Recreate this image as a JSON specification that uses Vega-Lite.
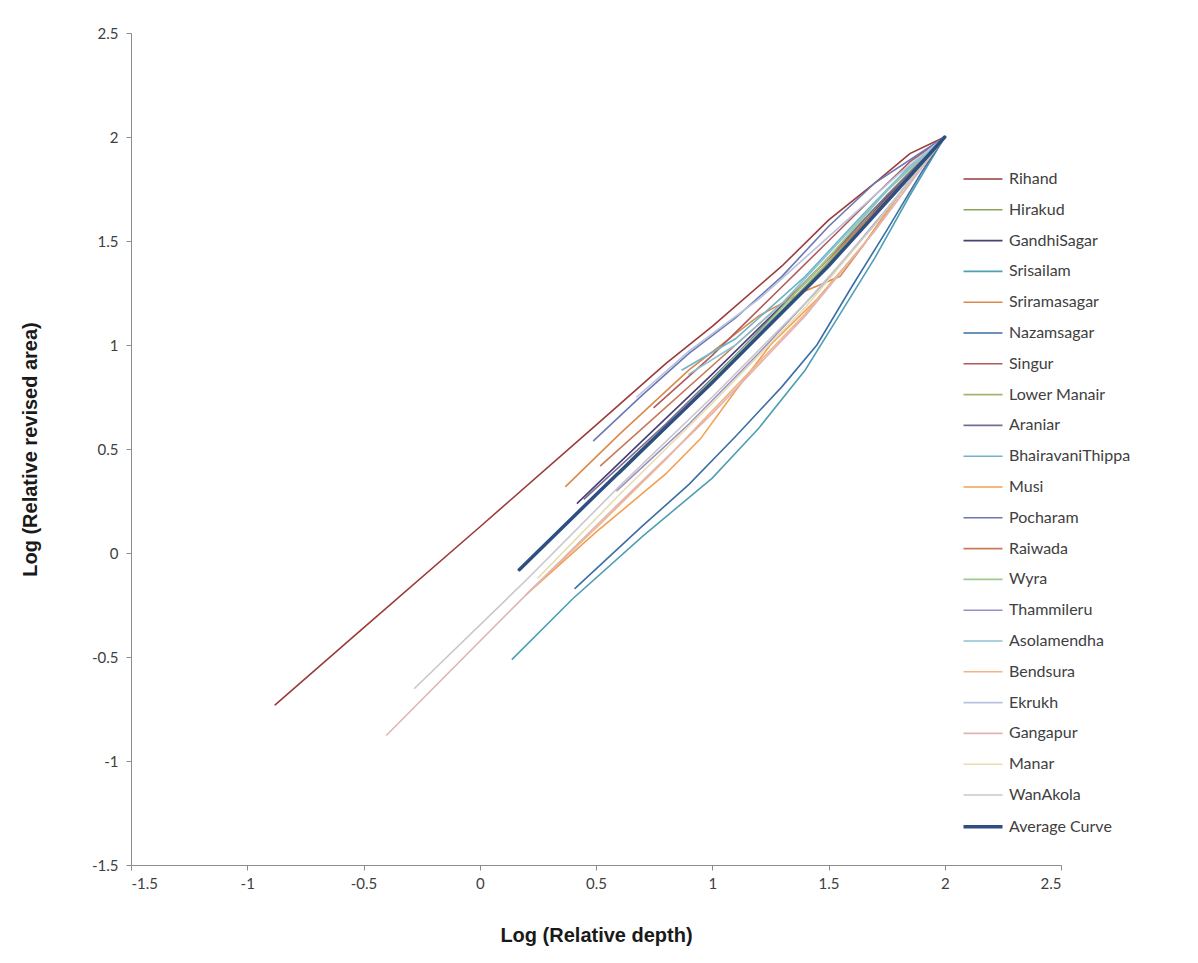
{
  "$schema": "https://vega.github.io/schema/vega-lite/v6.json",
  "width": 930,
  "height": 832,
  "autosize": {"type": "none"},
  "padding": {"left": 131, "top": 33, "right": 137, "bottom": 98},
  "background": "white",
  "config": {
    "view": {"stroke": null},
    "axis": {"grid": false, "domainColor": "#8c8c8c", "tickColor": "#8c8c8c", "tickSize": 5, "labelFont": "Lato", "labelFontSize": 15, "labelColor": "#404040", "titleFont": "Liberation Sans", "titleFontSize": 20, "titleFontWeight": "bold", "titleColor": "#1a1a1a"},
    "legend": {"labelFont": "Lato", "labelFontSize": 16, "labelColor": "#404040"}
  },
  "data": {"values": [
    {"r":"Rihand","x":-0.88,"y":-0.73},{"r":"Rihand","x":-0.5,"y":-0.36},{"r":"Rihand","x":0,"y":0.125},{"r":"Rihand","x":0.5,"y":0.615},{"r":"Rihand","x":0.8,"y":0.91},{"r":"Rihand","x":1.0,"y":1.09},{"r":"Rihand","x":1.3,"y":1.38},{"r":"Rihand","x":1.5,"y":1.6},{"r":"Rihand","x":1.7,"y":1.78},{"r":"Rihand","x":1.85,"y":1.92},{"r":"Rihand","x":2,"y":2},
    {"r":"Hirakud","x":0.6,"y":0.38},{"r":"Hirakud","x":0.8,"y":0.6},{"r":"Hirakud","x":1.0,"y":0.82},{"r":"Hirakud","x":1.2,"y":1.04},{"r":"Hirakud","x":1.4,"y":1.27},{"r":"Hirakud","x":1.6,"y":1.52},{"r":"Hirakud","x":1.8,"y":1.77},{"r":"Hirakud","x":2,"y":2},
    {"r":"GandhiSagar","x":0.42,"y":0.24},{"r":"GandhiSagar","x":0.7,"y":0.54},{"r":"GandhiSagar","x":1.0,"y":0.86},{"r":"GandhiSagar","x":1.3,"y":1.19},{"r":"GandhiSagar","x":1.6,"y":1.53},{"r":"GandhiSagar","x":1.8,"y":1.77},{"r":"GandhiSagar","x":2,"y":2},
    {"r":"Srisailam","x":0.14,"y":-0.51},{"r":"Srisailam","x":0.4,"y":-0.22},{"r":"Srisailam","x":0.7,"y":0.08},{"r":"Srisailam","x":1.0,"y":0.36},{"r":"Srisailam","x":1.2,"y":0.6},{"r":"Srisailam","x":1.4,"y":0.88},{"r":"Srisailam","x":1.55,"y":1.15},{"r":"Srisailam","x":1.7,"y":1.42},{"r":"Srisailam","x":1.85,"y":1.72},{"r":"Srisailam","x":2,"y":2},
    {"r":"Sriramasagar","x":0.37,"y":0.32},{"r":"Sriramasagar","x":0.6,"y":0.57},{"r":"Sriramasagar","x":0.9,"y":0.88},{"r":"Sriramasagar","x":1.2,"y":1.14},{"r":"Sriramasagar","x":1.4,"y":1.26},{"r":"Sriramasagar","x":1.55,"y":1.33},{"r":"Sriramasagar","x":1.65,"y":1.48},{"r":"Sriramasagar","x":1.8,"y":1.72},{"r":"Sriramasagar","x":2,"y":2},
    {"r":"Nazamsagar","x":0.41,"y":-0.17},{"r":"Nazamsagar","x":0.7,"y":0.13},{"r":"Nazamsagar","x":0.9,"y":0.33},{"r":"Nazamsagar","x":1.1,"y":0.56},{"r":"Nazamsagar","x":1.3,"y":0.8},{"r":"Nazamsagar","x":1.45,"y":1.0},{"r":"Nazamsagar","x":1.6,"y":1.28},{"r":"Nazamsagar","x":1.75,"y":1.55},{"r":"Nazamsagar","x":1.9,"y":1.83},{"r":"Nazamsagar","x":2,"y":2},
    {"r":"Singur","x":0.75,"y":0.7},{"r":"Singur","x":1.0,"y":0.95},{"r":"Singur","x":1.3,"y":1.28},{"r":"Singur","x":1.5,"y":1.5},{"r":"Singur","x":1.7,"y":1.72},{"r":"Singur","x":1.85,"y":1.88},{"r":"Singur","x":2,"y":2},
    {"r":"Lower Manair","x":0.65,"y":0.45},{"r":"Lower Manair","x":0.9,"y":0.72},{"r":"Lower Manair","x":1.2,"y":1.05},{"r":"Lower Manair","x":1.5,"y":1.4},{"r":"Lower Manair","x":1.75,"y":1.72},{"r":"Lower Manair","x":2,"y":2},
    {"r":"Araniar","x":0.45,"y":0.26},{"r":"Araniar","x":0.8,"y":0.62},{"r":"Araniar","x":1.1,"y":0.95},{"r":"Araniar","x":1.4,"y":1.3},{"r":"Araniar","x":1.7,"y":1.66},{"r":"Araniar","x":2,"y":2},
    {"r":"BhairavaniThippa","x":0.87,"y":0.88},{"r":"BhairavaniThippa","x":1.1,"y":1.03},{"r":"BhairavaniThippa","x":1.4,"y":1.33},{"r":"BhairavaniThippa","x":1.65,"y":1.63},{"r":"BhairavaniThippa","x":1.85,"y":1.86},{"r":"BhairavaniThippa","x":2,"y":2},
    {"r":"Musi","x":0.22,"y":-0.18},{"r":"Musi","x":0.5,"y":0.1},{"r":"Musi","x":0.8,"y":0.38},{"r":"Musi","x":0.95,"y":0.55},{"r":"Musi","x":1.1,"y":0.78},{"r":"Musi","x":1.25,"y":1.0},{"r":"Musi","x":1.45,"y":1.22},{"r":"Musi","x":1.65,"y":1.48},{"r":"Musi","x":1.82,"y":1.75},{"r":"Musi","x":2,"y":2},
    {"r":"Pocharam","x":0.49,"y":0.54},{"r":"Pocharam","x":0.7,"y":0.76},{"r":"Pocharam","x":0.9,"y":0.96},{"r":"Pocharam","x":1.1,"y":1.13},{"r":"Pocharam","x":1.3,"y":1.33},{"r":"Pocharam","x":1.5,"y":1.57},{"r":"Pocharam","x":1.7,"y":1.78},{"r":"Pocharam","x":2,"y":2},
    {"r":"Raiwada","x":0.52,"y":0.42},{"r":"Raiwada","x":0.8,"y":0.7},{"r":"Raiwada","x":1.1,"y":1.0},{"r":"Raiwada","x":1.4,"y":1.3},{"r":"Raiwada","x":1.7,"y":1.64},{"r":"Raiwada","x":2,"y":2},
    {"r":"Wyra","x":0.62,"y":0.4},{"r":"Wyra","x":0.9,"y":0.72},{"r":"Wyra","x":1.2,"y":1.06},{"r":"Wyra","x":1.5,"y":1.42},{"r":"Wyra","x":1.75,"y":1.74},{"r":"Wyra","x":2,"y":2},
    {"r":"Thammileru","x":0.59,"y":0.3},{"r":"Thammileru","x":0.9,"y":0.62},{"r":"Thammileru","x":1.2,"y":0.96},{"r":"Thammileru","x":1.5,"y":1.32},{"r":"Thammileru","x":1.8,"y":1.72},{"r":"Thammileru","x":2,"y":2},
    {"r":"Asolamendha","x":0.9,"y":0.86},{"r":"Asolamendha","x":1.1,"y":1.0},{"r":"Asolamendha","x":1.3,"y":1.2},{"r":"Asolamendha","x":1.55,"y":1.5},{"r":"Asolamendha","x":1.8,"y":1.8},{"r":"Asolamendha","x":2,"y":2},
    {"r":"Bendsura","x":0.2,"y":-0.2},{"r":"Bendsura","x":0.5,"y":0.12},{"r":"Bendsura","x":0.8,"y":0.45},{"r":"Bendsura","x":1.1,"y":0.8},{"r":"Bendsura","x":1.4,"y":1.15},{"r":"Bendsura","x":1.7,"y":1.55},{"r":"Bendsura","x":2,"y":2},
    {"r":"Ekrukh","x":0.675,"y":0.75},{"r":"Ekrukh","x":0.9,"y":0.97},{"r":"Ekrukh","x":1.2,"y":1.22},{"r":"Ekrukh","x":1.5,"y":1.52},{"r":"Ekrukh","x":1.8,"y":1.82},{"r":"Ekrukh","x":2,"y":2},
    {"r":"Gangapur","x":-0.4,"y":-0.875},{"r":"Gangapur","x":0.2,"y":-0.2},{"r":"Gangapur","x":0.6,"y":0.24},{"r":"Gangapur","x":1.0,"y":0.67},{"r":"Gangapur","x":1.4,"y":1.14},{"r":"Gangapur","x":1.7,"y":1.55},{"r":"Gangapur","x":2,"y":2},
    {"r":"Manar","x":0.25,"y":-0.12},{"r":"Manar","x":0.6,"y":0.28},{"r":"Manar","x":1.0,"y":0.72},{"r":"Manar","x":1.4,"y":1.18},{"r":"Manar","x":1.7,"y":1.58},{"r":"Manar","x":2,"y":2},
    {"r":"WanAkola","x":-0.28,"y":-0.65},{"r":"WanAkola","x":0.2,"y":-0.13},{"r":"WanAkola","x":0.6,"y":0.32},{"r":"WanAkola","x":1.0,"y":0.75},{"r":"WanAkola","x":1.4,"y":1.2},{"r":"WanAkola","x":1.7,"y":1.58},{"r":"WanAkola","x":2,"y":2},
    {"r":"Average Curve","x":0.17,"y":-0.08},{"r":"Average Curve","x":0.5,"y":0.28},{"r":"Average Curve","x":1.0,"y":0.82},{"r":"Average Curve","x":1.5,"y":1.38},{"r":"Average Curve","x":1.8,"y":1.75},{"r":"Average Curve","x":2,"y":2}
  ]},
  "mark": {"type": "line", "strokeCap": "round"},
  "encoding": {
    "x": {"field": "x", "type": "quantitative", "scale": {"domain": [-1.5, 2.5], "nice": false, "zero": false},
      "axis": {"values": [-1.5,-1,-0.5,0,0.5,1,1.5,2,2.5], "labelExpr": "toString(datum.value)", "title": "Log (Relative depth)", "titleY": 70, "titleBaseline": "middle", "labelPadding": 6}},
    "y": {"field": "y", "type": "quantitative", "scale": {"domain": [-1.5, 2.5], "nice": false, "zero": false},
      "axis": {"values": [-1.5,-1,-0.5,0,0.5,1,1.5,2,2.5], "labelExpr": "toString(datum.value)", "title": "Log (Relative revised area)", "titleX": -101, "titleY": 416, "titleBaseline": "middle", "labelPadding": 8}},
    "color": {"field": "r", "type": "nominal",
      "scale": {"domain": ["Rihand","Hirakud","GandhiSagar","Srisailam","Sriramasagar","Nazamsagar","Singur","Lower Manair","Araniar","BhairavaniThippa","Musi","Pocharam","Raiwada","Wyra","Thammileru","Asolamendha","Bendsura","Ekrukh","Gangapur","Manar","WanAkola","Average Curve"],
        "range": ["#9B3B3A","#8AA35A","#4A3F73","#4E9FB3","#D98A4C","#3B6EA5","#B05A5C","#A3B56E","#7A6A96","#6FB3C8","#F0A050","#6B78B5","#C87A5A","#9CCB8A","#9A8FC4","#8CC3D3","#F4B383","#B8C2DE","#E0B5B5","#E5DDB0","#C8C8CC","#2E4F82"]},
      "legend": {"title": null, "orient": "none", "legendX": 835, "legendY": 130, "symbolType": "M-1.3,0H1.3", "symbolSize": 900, "symbolStrokeWidth": 2, "rowPadding": 6.8, "labelOffset": 9, "padding": 0}},
    "strokeWidth": {"field": "r", "type": "nominal",
      "scale": {"type": "ordinal", "domain": ["Rihand","Hirakud","GandhiSagar","Srisailam","Sriramasagar","Nazamsagar","Singur","Lower Manair","Araniar","BhairavaniThippa","Musi","Pocharam","Raiwada","Wyra","Thammileru","Asolamendha","Bendsura","Ekrukh","Gangapur","Manar","WanAkola","Average Curve"],
        "range": [1.6,1.6,1.6,1.6,1.6,1.6,1.6,1.6,1.6,1.6,1.6,1.6,1.6,1.6,1.6,1.6,1.6,1.6,1.6,1.6,1.6,3.5]},
      "legend": {"title": null, "orient": "none", "legendX": 835, "legendY": 130, "symbolType": "M-1.3,0H1.3", "symbolSize": 900, "rowPadding": 6.8, "labelOffset": 9, "padding": 0}}
  }
}
